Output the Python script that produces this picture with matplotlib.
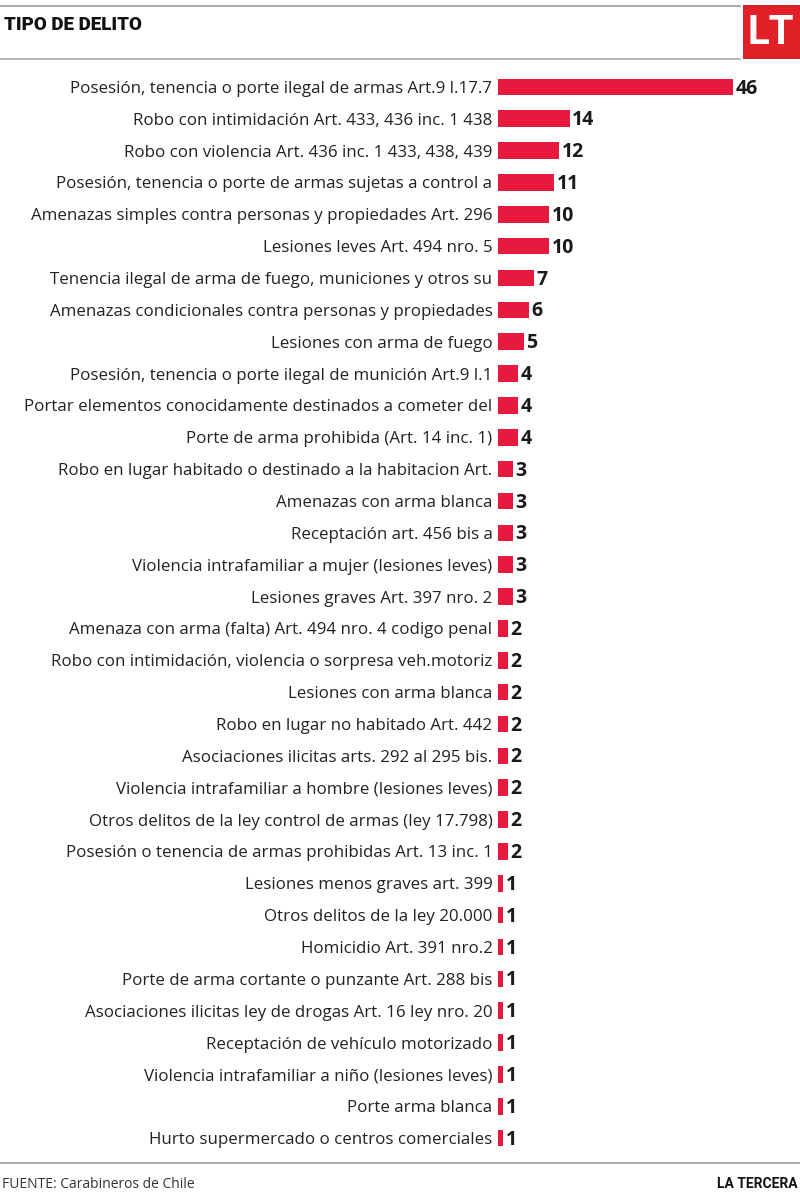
import matplotlib.pyplot as plt
from matplotlib.patches import Rectangle

# datos: tipo de delito y numero de casos
delitos = [
    "Posesión, tenencia o porte ilegal de armas Art.9 l.17.7",
    "Robo con intimidación Art. 433, 436 inc. 1 438",
    "Robo con violencia Art. 436 inc. 1 433, 438, 439",
    "Posesión, tenencia o porte de armas sujetas a control a",
    "Amenazas simples contra personas y propiedades Art. 296",
    "Lesiones leves Art. 494 nro. 5",
    "Tenencia ilegal de arma de fuego, municiones y otros su",
    "Amenazas condicionales contra personas y propiedades",
    "Lesiones con arma de fuego",
    "Posesión, tenencia o porte ilegal de munición Art.9 l.1",
    "Portar elementos conocidamente destinados a cometer del",
    "Porte de arma prohibida (Art. 14 inc. 1)",
    "Robo en lugar habitado o destinado a la habitacion Art.",
    "Amenazas con arma blanca",
    "Receptación art. 456 bis a",
    "Violencia intrafamiliar a mujer (lesiones leves)",
    "Lesiones graves Art. 397 nro. 2",
    "Amenaza con arma (falta) Art. 494 nro. 4 codigo penal",
    "Robo con intimidación, violencia o sorpresa veh.motoriz",
    "Lesiones con arma blanca",
    "Robo en lugar no habitado Art. 442",
    "Asociaciones ilicitas arts. 292 al 295 bis.",
    "Violencia intrafamiliar a hombre (lesiones leves)",
    "Otros delitos de la ley control de armas (ley 17.798)",
    "Posesión o tenencia de armas prohibidas Art. 13 inc. 1",
    "Lesiones menos graves art. 399",
    "Otros delitos de la ley 20.000",
    "Homicidio Art. 391 nro.2",
    "Porte de arma cortante o punzante Art. 288 bis",
    "Asociaciones ilicitas ley de drogas Art. 16 ley nro. 20",
    "Receptación de vehículo motorizado",
    "Violencia intrafamiliar a niño (lesiones leves)",
    "Porte arma blanca",
    "Hurto supermercado o centros comerciales",
]
casos = [46, 14, 12, 11, 10, 10, 7, 6, 5, 4, 4, 4, 3, 3, 3, 3, 3,
         2, 2, 2, 2, 2, 2, 2, 2, 1, 1, 1, 1, 1, 1, 1, 1, 1]

W, H = 800, 1199
rojo = '#e8193f'
fuente = 'Open Sans'

fig = plt.figure(figsize=(W / 100, H / 100), dpi=100)

# ejes de las barras (en pixeles de la figura)
x0, x1 = 498, 800
y_top, y_bot = 71, 1154
ax = fig.add_axes([x0 / W, 1 - y_bot / H, (x1 - x0) / W, (y_bot - y_top) / H])
ax.set_xlim(0, (x1 - x0) / (235 / 46))
ax.set_ylim(len(casos) - 0.5, -0.5)

pos = range(len(casos))
ax.barh(pos, casos, height=0.52, color=rojo, edgecolor='none')
for i, v in enumerate(casos):
    ax.text(v + 0.45, i + 0.05, str(v), va='center', ha='left',
            fontsize=14, fontweight='bold', color='#1a1a1a', family=fuente)

ax.set_yticks(list(pos))
ax.set_yticklabels(delitos, fontsize=12.2, color='#222222', family=fuente)
ax.tick_params(axis='y', length=0, pad=4)
ax.set_xticks([])
for s in ax.spines.values():
    s.set_visible(False)

# cabecera
fig.add_artist(plt.Line2D([0, 740 / W], [1 - 5.5 / H] * 2, color='#999999', lw=1.2))
fig.add_artist(plt.Line2D([0, 740 / W], [1 - 59 / H] * 2, color='#aaaaaa', lw=1.2))
fig.text(4 / W, 1 - 25 / H, 'TIPO DE DELITO', fontsize=13.5, fontweight='black',
         family='Roboto', va='center', ha='left', color='#111111')
fig.add_artist(Rectangle((743 / W, 1 - 59 / H), 57 / W, 54 / H,
                         transform=fig.transFigure, color='#e01f26', lw=0))
fig.text(771 / W, 1 - 33 / H, 'LT', fontsize=29, color='white', family='Roboto',
         fontweight='bold', va='center', ha='center')

# pie
fig.add_artist(plt.Line2D([0, 1], [1 - 1163 / H] * 2, color='#999999', lw=1.2))
fig.text(2 / W, 1 - 1184 / H, 'FUENTE: Carabineros de Chile', fontsize=10,
         family=fuente, color='#333333', va='center', ha='left')
fig.text(798 / W, 1 - 1184 / H, 'LA TERCERA', fontsize=10, fontweight='bold',
         family='Roboto', color='#111111', va='center', ha='right')

fig.savefig('out.png', dpi=100)
